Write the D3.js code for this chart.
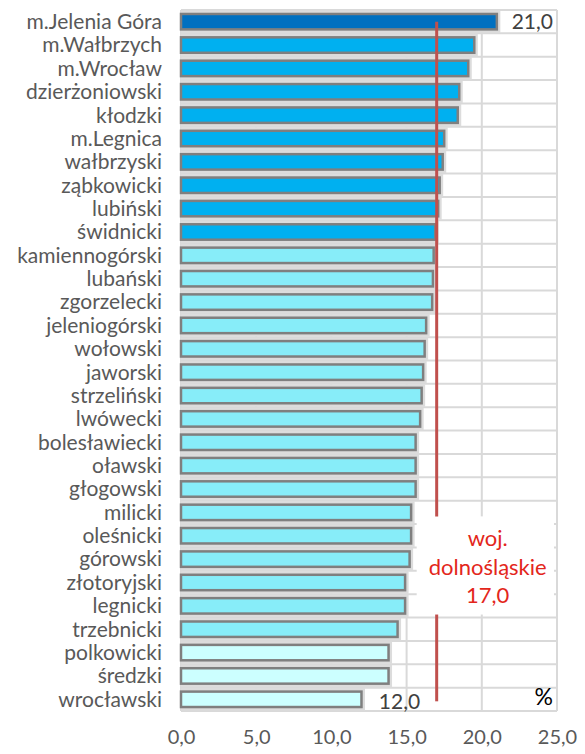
<!DOCTYPE html>
<html>
<head>
<meta charset="utf-8">
<script src="https://cdn.jsdelivr.net/npm/d3@7"></script>
<style>
  body { margin: 0; background: #fff; }
  text { font-family: Lato, "Open Sans", sans-serif; }
</style>
</head>
<body>
<div id="chart"></div>
<script>
const width = 585;
const height = 754;
const margin = { top: 10, right: 28, bottom: 43, left: 181 };

// powiaty, od największej wartości
const names = [
  "m.Jelenia Góra", "m.Wałbrzych", "m.Wrocław", "dzierżoniowski", "kłodzki",
  "m.Legnica", "wałbrzyski", "ząbkowicki", "lubiński", "świdnicki",
  "kamiennogórski", "lubański", "zgorzelecki", "jeleniogórski", "wołowski",
  "jaworski", "strzeliński", "lwówecki", "bolesławiecki", "oławski",
  "głogowski", "milicki", "oleśnicki", "górowski", "złotoryjski",
  "legnicki", "trzebnicki", "polkowicki", "średzki", "wrocławski"
];
const values = [
  21.0, 19.5, 19.1, 18.5, 18.4,
  17.5, 17.4, 17.2, 17.1, 16.9,
  16.8, 16.75, 16.7, 16.3, 16.2,
  16.1, 16.0, 15.9, 15.6, 15.6,
  15.6, 15.3, 15.3, 15.2, 14.9,
  14.9, 14.4, 13.8, 13.8, 12.0
];
// grupa koloru dla każdego słupka
const groups = [
  0, 1, 1, 1, 1, 1, 1, 1, 1, 1,
  2, 2, 2, 2, 2, 2, 2, 2, 2, 2,
  2, 2, 2, 2, 2, 2, 2, 3, 3, 3
];
const groupColors = ["#0070c0", "#00b0f0", "#87edf9", "#ccffff"];
const xTicks = [0, 5, 10, 15, 20, 25];
const avgValue = 17.0;
const avgLabel = ["woj.", "dolnośląskie", "17,0"];

const data = names.map((n, i) => ({ name: n, value: values[i], group: groups[i] }));
const fmt = v => v.toFixed(1).replace(".", ",");

const svg = d3.select("#chart").append("svg")
  .attr("width", width)
  .attr("height", height);

const innerW = width - margin.left - margin.right;
const innerH = height - margin.top - margin.bottom;

const x = d3.scaleLinear().domain([0, 25]).range([0, innerW]);
const y = d3.scaleBand().domain(names).range([0, innerH]).paddingInner(0).paddingOuter(0);

const g = svg.append("g").attr("transform", `translate(${margin.left},${margin.top})`);

// siatka
g.selectAll("line.vgrid")
  .data(xTicks)
  .enter().append("line")
  .attr("class", "vgrid")
  .attr("x1", d => x(d)).attr("x2", d => x(d))
  .attr("y1", 0).attr("y2", innerH)
  .attr("stroke", "#d9d9d9")
  .attr("stroke-width", 2);

g.selectAll("line.hgrid")
  .data(d3.range(names.length + 1))
  .enter().append("line")
  .attr("class", "hgrid")
  .attr("x1", 0).attr("x2", innerW)
  .attr("y1", i => i * y.step()).attr("y2", i => i * y.step())
  .attr("stroke", "#d9d9d9")
  .attr("stroke-width", 2);

// słupki z cieniem
const barH = y.step() * 0.66;
const off = (y.bandwidth() - barH) / 2;

g.selectAll("rect.shadow")
  .data(data)
  .enter().append("rect")
  .attr("class", "shadow")
  .attr("x", 0)
  .attr("y", d => y(d.name) + off - 3.5)
  .attr("width", d => x(d.value) + 3.5)
  .attr("height", barH + 7)
  .attr("fill", "#dcdcdc");

g.selectAll("rect.bar")
  .data(data)
  .enter().append("rect")
  .attr("class", "bar")
  .attr("x", 0)
  .attr("y", d => y(d.name) + off)
  .attr("width", d => x(d.value))
  .attr("height", barH)
  .attr("fill", d => groupColors[d.group])
  .attr("stroke", "#7f7f7f")
  .attr("stroke-width", 2.5);

// linia średniej wojewódzkiej
const lineTop = y(names[0]) + y.bandwidth() / 2;
const lineBottom = y(names[names.length - 1]) + y.bandwidth() / 2 + 2;
const gapTop = y(names[21]) + y.bandwidth() / 2 + 4;
const gapBottom = y(names[25]) + y.bandwidth() - 3;

g.append("rect")
  .attr("x", x(avgValue) - 20)
  .attr("y", gapTop)
  .attr("width", innerW - x(avgValue) + 17)
  .attr("height", gapBottom - gapTop)
  .attr("fill", "#fff");

g.append("line")
  .attr("x1", x(avgValue)).attr("x2", x(avgValue))
  .attr("y1", lineTop).attr("y2", gapTop)
  .attr("stroke", "#c0504d").attr("stroke-width", 3);
g.append("line")
  .attr("x1", x(avgValue)).attr("x2", x(avgValue))
  .attr("y1", gapBottom).attr("y2", lineBottom)
  .attr("stroke", "#c0504d").attr("stroke-width", 3);

g.selectAll("text.avg")
  .data(avgLabel)
  .enter().append("text")
  .attr("class", "avg")
  .attr("x", x(avgValue) + 51)
  .attr("y", (d, i) => gapTop + 30 + i * 28.5)
  .attr("text-anchor", "middle")
  .attr("fill", "#e3261b")
  .style("font-size", "22px")
  .text(d => d);

// etykiety kategorii
g.selectAll("text.name")
  .data(data)
  .enter().append("text")
  .attr("class", "name")
  .attr("x", -19)
  .attr("y", d => y(d.name) + y.bandwidth() / 2)
  .attr("dy", "0.35em")
  .attr("text-anchor", "end")
  .attr("fill", "#595959")
  .style("font-size", "21px")
  .text(d => d.name);

// wartości skrajne
const first = data[0];
const last = data[data.length - 1];
g.append("text")
  .attr("x", innerW - 4)
  .attr("y", y(first.name) + y.bandwidth() / 2)
  .attr("dy", "0.35em")
  .attr("text-anchor", "end")
  .attr("fill", "#404040")
  .style("font-size", "21px")
  .text(fmt(first.value));
g.append("text")
  .attr("x", x(last.value) + 38)
  .attr("y", y(last.name) + y.bandwidth() / 2 + 2)
  .attr("dy", "0.35em")
  .attr("text-anchor", "middle")
  .attr("fill", "#404040")
  .style("font-size", "21px")
  .text(fmt(last.value));

g.append("text")
  .attr("x", innerW - 4)
  .attr("y", y(last.name) + y.bandwidth() / 2 - 2)
  .attr("dy", "0.35em")
  .attr("text-anchor", "end")
  .attr("fill", "#000")
  .style("font-size", "23px")
  .text("%");

// oś X
const xAxis = g.append("g")
  .attr("transform", `translate(0,${innerH})`)
  .call(d3.axisBottom(x).tickValues(xTicks).tickSize(0).tickPadding(19).tickFormat(fmt));
xAxis.select(".domain").remove();
xAxis.selectAll("text")
  .attr("fill", "#595959")
  .style("font-size", "20px")
  .style("font-family", "Lato, 'Open Sans', sans-serif");
</script>
</body>
</html>
